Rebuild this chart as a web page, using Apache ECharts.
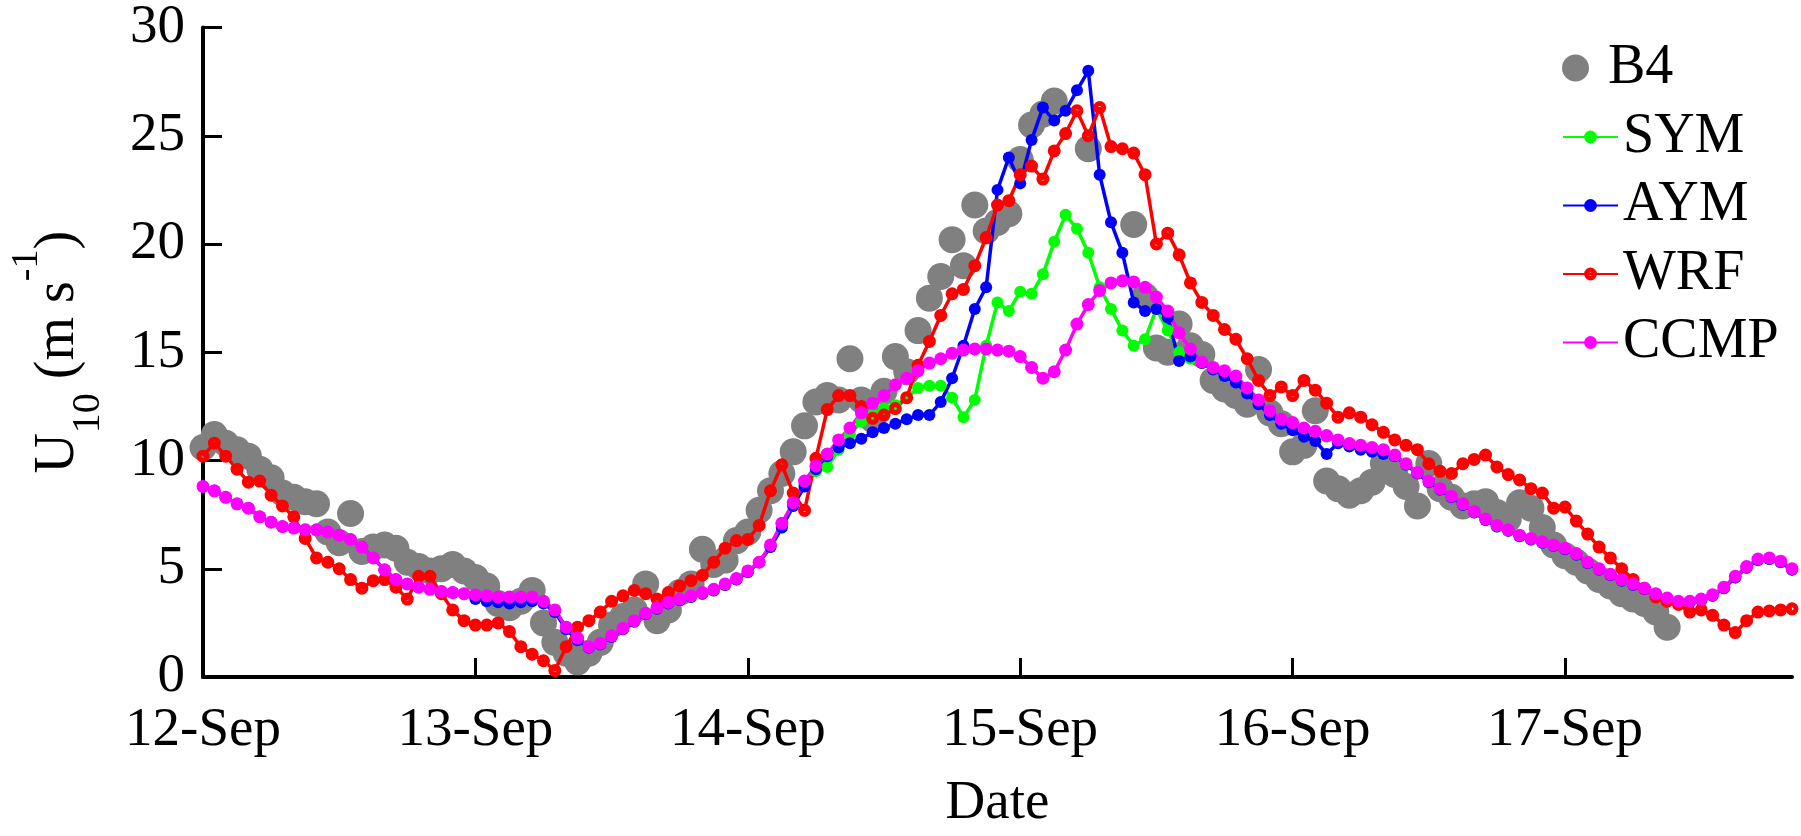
<!DOCTYPE html>
<html>
<head>
<meta charset="utf-8">
<script src="https://cdn.jsdelivr.net/npm/echarts@6/dist/echarts.min.js"></script>
<style>
html,body{margin:0;padding:0;background:#fff;}
#chart{width:1801px;height:836px;}
</style>
</head>
<body>
<div id="chart"></div>
<script>
// hours since 12-Sep 00:00, hourly samples 0..140
const tickLabels = ['12-Sep','13-Sep','14-Sep','15-Sep','16-Sep','17-Sep'];
const seriesNames = ['B4','SYM','AYM','WRF','CCMP'];

const b4 = [
10.6,11.2,10.8,10.5,10.2,9.6,9.2,8.5,8.3,8.1,
8.0,6.7,6.2,7.55,5.8,6.0,6.1,5.95,5.3,5.1,
4.9,5.0,5.2,4.9,4.6,4.2,3.4,3.2,3.5,4.0,
2.5,1.6,1.1,0.7,1.1,1.6,2.4,2.8,3.1,4.3,
2.6,3.1,3.9,4.3,5.9,5.2,5.4,6.3,6.7,7.7,
8.6,9.4,10.4,11.6,12.7,13.0,12.8,14.7,12.8,11.9,
13.2,14.8,14.1,16.0,17.5,18.5,20.2,19.0,21.8,20.6,
21.0,21.4,23.9,25.5,26.0,26.6,null,null,24.4,null,
null,null,20.9,17.6,15.2,15.0,16.3,15.3,14.9,13.7,
13.3,13.0,12.6,14.2,12.2,11.7,10.4,10.7,12.3,9.05,
8.7,8.4,8.6,9.0,9.86,9.36,8.8,7.9,9.86,8.7,
8.3,7.9,8.0,8.1,7.6,7.3,8.05,7.8,6.9,6.1,
5.6,5.3,4.9,4.5,4.2,3.85,3.6,3.4,3.0,2.3,
null,null,null,null,null,null,null,null,null,null,null
];

const sym = [
8.8,8.6,8.3,8.0,7.8,7.4,7.15,6.95,6.88,6.8,
6.8,6.7,6.55,6.35,6.0,5.5,4.95,4.5,4.3,4.15,
4.05,3.95,3.9,3.85,3.8,3.75,3.7,3.7,3.7,3.7,
3.5,3.1,2.3,1.8,1.4,1.55,1.9,2.25,2.6,2.95,
3.2,3.45,3.6,3.75,3.85,4.0,4.25,4.5,4.85,5.3,
6.0,6.9,7.9,8.9,9.5,9.7,10.5,11.2,11.8,12.1,
12.4,12.55,12.9,13.35,13.45,13.45,12.9,12.0,12.8,15.3,
17.3,16.9,17.8,17.7,18.6,20.1,21.35,20.7,19.6,18.0,
17.0,16.0,15.3,15.6,17.0,16.0,15.0,14.7,14.5,14.25,
14.1,13.85,13.3,12.75,12.25,11.85,11.7,11.45,11.3,11.1,
10.9,10.75,10.65,10.55,10.45,10.2,9.8,9.4,9.0,8.65,
8.3,7.95,7.6,7.25,6.95,6.75,6.5,6.35,6.2,6.05,
5.9,5.65,5.25,4.95,4.7,4.45,4.25,4.05,3.8,3.6,
3.45,3.45,3.55,3.75,4.1,4.6,5.05,5.4,5.45,5.3,
4.95
];

const aym = [
8.8,8.6,8.3,8.0,7.8,7.4,7.15,6.95,6.88,6.8,
6.8,6.7,6.55,6.35,6.0,5.5,4.95,4.5,4.3,4.15,
4.05,3.95,3.9,3.85,3.6,3.5,3.45,3.4,3.45,3.5,
3.4,3.0,2.2,1.7,1.35,1.5,1.85,2.2,2.55,2.9,
3.15,3.4,3.55,3.7,3.85,4.0,4.25,4.5,4.85,5.3,
6.0,6.9,7.9,8.8,9.6,10.2,10.6,10.8,11.0,11.3,
11.5,11.7,11.9,12.1,12.1,12.7,13.8,15.3,17.0,18.0,
22.5,24.0,22.8,24.8,26.3,25.7,26.15,27.1,28.0,23.2,
21.0,19.6,17.3,16.9,17.0,16.6,14.6,14.8,14.5,14.2,
13.9,13.6,13.1,12.6,12.1,11.7,11.4,11.1,10.9,10.3,
10.8,10.65,10.5,10.4,10.3,10.2,9.8,9.4,9.0,8.65,
8.3,7.95,7.6,7.25,6.95,6.75,6.5,6.35,6.2,6.05,
5.9,5.65,5.25,4.95,4.7,4.45,4.25,4.05,3.8,3.6,
3.45,3.45,3.55,3.75,4.1,4.6,5.05,5.4,5.45,5.3,
4.95
];

const wrf = [
10.2,10.8,10.2,9.6,9.0,9.05,8.4,7.9,7.4,6.4,
5.5,5.3,5.0,4.5,4.1,4.45,4.5,4.15,3.6,4.65,
4.65,3.85,3.1,2.6,2.4,2.4,2.5,2.1,1.4,1.05,
0.75,0.3,1.4,2.3,2.6,3.0,3.5,3.75,4.0,3.85,
3.6,3.9,4.2,4.45,4.7,5.3,5.95,6.3,6.35,7.0,
8.6,9.8,8.5,7.7,10.1,12.35,13.0,13.0,12.5,11.95,
12.1,12.4,12.9,14.4,15.5,16.7,17.7,17.9,19.0,20.3,
21.8,22.0,23.2,23.6,23.0,24.3,25.1,26.15,25.0,26.3,
24.5,24.4,24.2,23.2,20.0,20.5,19.5,18.2,17.3,16.7,
16.05,15.6,14.7,13.7,13.0,13.4,13.0,13.7,13.25,12.65,
12.0,12.2,12.0,11.65,11.3,10.95,10.7,10.5,9.85,9.5,
9.4,9.85,10.05,10.25,9.7,9.35,9.1,8.7,8.5,7.8,
7.85,7.2,6.6,6.0,5.5,5.0,4.5,4.1,3.7,3.5,
3.35,3.0,3.1,2.85,2.4,2.05,2.6,3.0,3.05,3.1,
3.15
];

const ccmp = [
8.8,8.6,8.3,8.0,7.8,7.4,7.15,6.95,6.88,6.8,
6.8,6.7,6.55,6.35,6.0,5.5,4.95,4.5,4.3,4.15,
4.05,3.95,3.9,3.85,3.8,3.75,3.7,3.7,3.7,3.7,
3.5,3.1,2.3,1.8,1.4,1.55,1.9,2.25,2.6,2.95,
3.2,3.45,3.6,3.75,3.9,4.05,4.3,4.55,4.9,5.3,
6.1,7.1,8.05,9.05,9.75,10.3,10.95,11.5,12.2,12.65,
13.0,13.5,13.8,14.15,14.5,14.7,14.95,15.1,15.15,15.15,
15.1,15.05,14.8,14.3,13.8,14.1,15.1,16.3,17.2,17.85,
18.2,18.3,18.25,18.0,17.55,16.9,15.9,15.15,14.55,14.3,
14.15,13.9,13.35,12.8,12.3,11.9,11.75,11.5,11.35,11.15,
10.95,10.78,10.7,10.6,10.5,10.25,9.85,9.45,9.05,8.7,
8.35,8.0,7.65,7.3,7.0,6.8,6.55,6.4,6.25,6.1,
5.95,5.7,5.3,5.0,4.75,4.5,4.3,4.1,3.85,3.65,
3.5,3.5,3.6,3.8,4.15,4.65,5.1,5.45,5.5,5.35,
5.0
];

const FONT = 'Liberation Serif, Times New Roman, serif';
const toXY = arr => arr.map((v, i) => [i, v]);
const dayTicks = tickLabels.map((_, i) => i * 24);
// red ring with a tiny white centre (MATLAB thick 'o' marker)
const RING = 'path://M0,10 A10,10 0 1,1 20,10 A10,10 0 1,1 0,10 Z M7.6,10 A2.4,2.4 0 1,0 12.4,10 A2.4,2.4 0 1,0 7.6,10 Z';

const chart = echarts.init(document.getElementById('chart'), null, {renderer: 'canvas'});

function lineSeries(name, data, color, size, symbol) {
  return {
    name: name,
    type: 'line',
    data: toXY(data),
    symbol: symbol,
    symbolSize: size,
    showSymbol: true,
    connectNulls: false,
    lineStyle: {color: color, width: 3.5},
    itemStyle: {color: color},
    emphasis: {disabled: true},
    z: 2
  };
}

const option = {
  animation: false,
  backgroundColor: '#fff',
  grid: {left: 193, right: 9, top: 22, bottom: 151, containLabel: false},
  legend: [
    {
      data: [{name: 'B4', icon: 'circle'}],
      orient: 'vertical',
      left: 1557, top: 35,
      itemWidth: 55, itemHeight: 27,
      textStyle: {fontFamily: FONT, fontSize: 56, color: '#000', lineHeight: 56},
      selectedMode: false
    },
    {
      data: ['SYM','AYM','WRF','CCMP'],
      orient: 'vertical',
      left: 1557, top: 104,
      itemWidth: 55, itemHeight: 16, itemGap: 12.5,
      textStyle: {fontFamily: FONT, fontSize: 56, color: '#000', lineHeight: 56},
      selectedMode: false
    }
  ],
  xAxis: {
    type: 'value', min: 0, max: 140, interval: 24,
    name: 'Date', nameLocation: 'middle', nameGap: 99,
    nameTextStyle: {fontFamily: FONT, fontSize: 55, color: '#000'},
    axisLine: {show: true, onZero: false, lineStyle: {color: '#000', width: 4}},
    axisTick: {show: true, inside: true, length: 19, lineStyle: {color: '#000', width: 3}, customValues: dayTicks},
    axisLabel: {
      fontFamily: FONT, fontSize: 55, color: '#000', margin: 26,
      customValues: dayTicks,
      formatter: v => tickLabels[Math.round(v / 24)] || ''
    },
    splitLine: {show: false}
  },
  yAxis: {
    type: 'value', min: 0, max: 30, interval: 5,
    name: '{n|U}{s|10}{n| (m s}{p|-1}{n|)}',
    nameLocation: 'middle', nameRotate: 90, nameGap: 95,
    nameTextStyle: {
      color: '#000',
      rich: {
        n: {fontFamily: FONT, fontSize: 56, color: '#000', lineHeight: 100, verticalAlign: 'middle'},
        s: {fontFamily: FONT, fontSize: 40, color: '#000', lineHeight: 40, verticalAlign: 'bottom'},
        p: {fontFamily: FONT, fontSize: 38, color: '#000', lineHeight: 40, verticalAlign: 'top'}
      }
    },
    axisLine: {show: true, lineStyle: {color: '#000', width: 4}},
    axisTick: {show: true, inside: true, length: 19, lineStyle: {color: '#000', width: 3}},
    axisLabel: {fontFamily: FONT, fontSize: 55, color: '#000', margin: 18},
    splitLine: {show: false}
  },
  series: [
    {
      name: 'B4', type: 'scatter', data: toXY(b4),
      symbol: 'circle', symbolSize: 27,
      itemStyle: {color: '#808080', opacity: 1},
      emphasis: {disabled: true},
      z: 1
    },
    lineSeries('SYM', sym, '#00ff00', 12, 'circle'),
    lineSeries('AYM', aym, '#0000ff', 12, 'circle'),
    lineSeries('WRF', wrf, '#ff0000', 13, RING),
    lineSeries('CCMP', ccmp, '#ff00ff', 13, 'circle')
  ]
};
chart.setOption(option);
</script>
</body>
</html>
